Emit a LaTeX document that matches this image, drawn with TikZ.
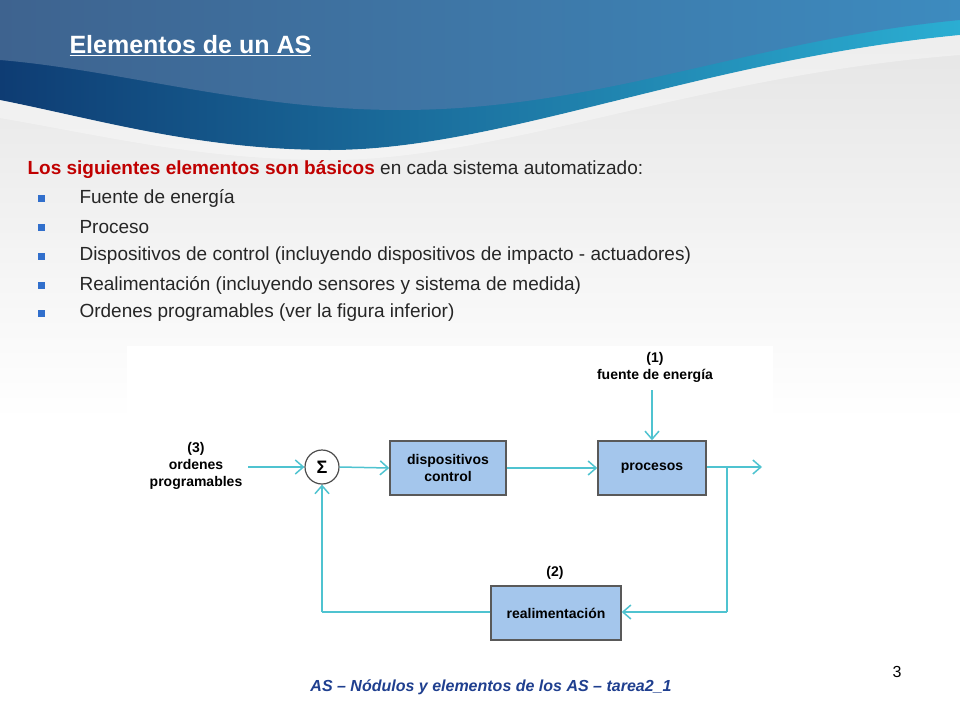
\documentclass[tikz,border=0pt]{standalone}
\usepackage{fontspec}
\setmainfont{Liberation Sans}
\usetikzlibrary{arrows.meta}
\definecolor{ln}{HTML}{4FC3D0}
\definecolor{bx}{HTML}{A4C6EC}
\definecolor{dk}{HTML}{0E3C73}
\definecolor{md}{HTML}{3D8BBF}
\definecolor{redt}{HTML}{C00000}
\definecolor{ft}{HTML}{1F3F8F}
\tikzset{
 blk/.style={draw=gray!70!black,line width=1.5pt,fill=bx,font=\bfseries\fontsize{14}{17}\selectfont,align=center,inner sep=0pt},
 lbl/.style={font=\bfseries\fontsize{14}{17}\selectfont,align=center},
 flow/.style={ln,line width=1.5pt,-{Straight Barb[length=8pt,width=14pt]}},
 fl/.style={ln,line width=1.5pt},
 bul/.style={fill=md!80!blue,minimum size=7pt,inner sep=0pt},
 bt/.style={anchor=west,font=\fontsize{19}{22}\selectfont,text=black!85}
}
\begin{document}
\begin{tikzpicture}[x=1pt,y=-1pt]
\useasboundingbox (0,0) rectangle (960,720);
\shade[top color=gray!22,bottom color=white] (0,0) rectangle (960,420);
\fill[white] (0,420) rectangle (960,720);
% header wave
\shade[left color=dk,right color=md!70!cyan] (0,0) -- (960,0) -- (960,35) .. controls (700,60) and (500,150) .. (330,150) .. controls (200,150) and (100,120) .. (0,100) -- cycle;
\fill[white,opacity=0.35] (0,100) .. controls (100,120) and (200,150) .. (330,150) .. controls (500,150) and (700,60) .. (960,35) -- (960,55) .. controls (700,75) and (500,160) .. (330,160) .. controls (200,160) and (100,135) .. (0,118) -- cycle;
\shade[left color=dk!80,right color=md] (0,0) -- (960,0) -- (960,20) .. controls (750,40) and (600,110) .. (400,110) .. controls (250,110) and (120,70) .. (0,60) -- cycle;
\node[anchor=west,text=white,font=\bfseries\fontsize{25}{28}\selectfont] (title) at (66,46) {\underline{Elementos de un AS}};
% bullets
\node[bt,anchor=west] (l0) at (24,170) {\textcolor{redt}{\textbf{Los siguientes elementos son básicos}} en cada sistema automatizado:};
\foreach \y/\t [count=\i] in {198/Fuente de energía,227/Proceso,256/Dispositivos de control (incluyendo dispositivos de impacto - actuadores),285/Realimentación (incluyendo sensores y sistema de medida),313/Ordenes programables (ver la figura inferior)}{
 \node[bul] (b\i) at (41,\y) {};
 \node[bt] (t\i) at (76,\y) {\t};
}
% diagram
\fill[white] (127,346) rectangle (773,648);
\node[draw=gray!60!black,line width=1.2pt,circle,minimum size=34pt,inner sep=0pt,font=\bfseries\fontsize{18}{18}\selectfont] (sig) at (322,467) {Σ};
\node[blk,minimum width=116pt,minimum height=54pt] (dc) at (448,468) {dispositivos\\control};
\node[blk,minimum width=108pt,minimum height=54pt] (pr) at (652,468) {procesos};
\node[blk,minimum width=130pt,minimum height=54pt] (re) at (556,613) {realimentación};
\node[lbl] (n3) at (196,466) {(3)\\ordenes\\programables};
\node[lbl] (n1) at (655,367) {(1)\\fuente de energía};
\node[lbl] (n2) at (555,573) {(2)};
\coordinate (in) at (248,467);
\coordinate (out) at (762,467);
\coordinate (br) at (727,467);
\coordinate (bd) at (727,612);
\coordinate (fb) at (322,612);
\coordinate (ftop) at (652,390);
\draw[flow] (in) -- (sig.west);
\draw[flow] (sig.east) -- (dc.west);
\draw[flow] (dc.east) -- (dc.east -| pr.west);
\draw[flow] (pr.east |- br) -- (out);
\draw[flow] (ftop) -- (pr.north);
\draw[fl] (br) -- (bd);
\draw[flow] (bd) -- (bd -| re.east);
\draw[fl] (re.west |- fb) -- (fb);
\draw[flow] (fb) -- (sig.south);
% footer
\node[font=\bfseries\itshape\fontsize{16}{19}\selectfont,text=ft] (foot) at (491,687) {AS – Nódulos y elementos de los AS – tarea2\_1};
\node[font=\fontsize{16}{19}\selectfont] (pg) at (897,672) {3};
\end{tikzpicture}
\end{document}
